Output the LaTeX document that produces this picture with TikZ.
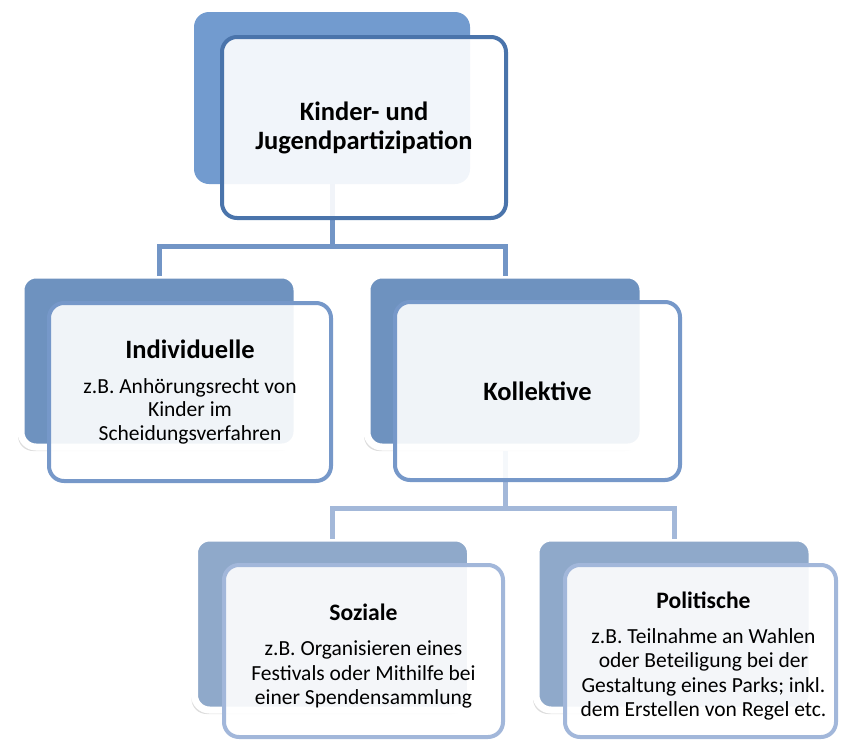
\documentclass[tikz,border=0pt]{standalone}
\usepackage{fontspec}
\setmainfont{Carlito}
\usetikzlibrary{shadows}
\definecolor{backA}{HTML}{729BCF}
\definecolor{lineA}{HTML}{4A74AB}
\definecolor{backB}{HTML}{6E92BF}
\definecolor{lineB}{HTML}{7698C9}
\definecolor{backC}{HTML}{8FA9CA}
\definecolor{lineC}{HTML}{A2B7DA}
\definecolor{connA}{HTML}{7295C6}
\definecolor{connB}{HTML}{A3B8D9}
\newcommand{\ttlfont}{\fontsize{26.5}{29}\selectfont\bfseries}
\newcommand{\ttlsmall}{\fontsize{23.6}{27}\selectfont\bfseries}
\newcommand{\subtxt}{\fontsize{21.5}{23.5}\selectfont}
\newcommand{\subtxtC}{\fontsize{21.5}{24.2}\selectfont}
\tikzset{
  backbox/.style={rectangle, rounded corners=15pt, minimum width=276pt, minimum height=172pt, inner sep=0pt},
  backglow/.style={backbox, draw=white, line width=7pt, drop shadow={shadow xshift=-3pt, shadow yshift=-4pt, opacity=0.22, fill=black!60}},
  frontbox/.style={rectangle, rounded corners=15pt, line width=4pt, fill=white, fill opacity=0.9, text opacity=1, align=center, inner sep=0pt},
  boxtext/.style={align=center, inner sep=0pt},
  conn/.style={line width=5pt},
}
\begin{document}
\begin{tikzpicture}[x=1pt,y=-1pt]
\useasboundingbox (0,0) rectangle (841,742);
% back boxes
\node[backbox, fill=backA] (topback) at (332,98) {};
\node[backglow, fill=backB] (indback) at (159,361) {};
\node[backglow, fill=backB] (kolback) at (505,361) {};
\node[backglow, fill=backC] (sozback) at (332.5,624) {};
\node[backglow, fill=backC] (polback) at (674,624) {};
% connectors
\coordinate (j1) at (332,246);
\coordinate (j2) at (505,508);
\draw[conn, draw=connA] (topback.south) -- (j1) -| ([yshift=-4pt]indback.north);
\draw[conn, draw=connA] (j1) -| ([yshift=-4pt]kolback.north);
\draw[conn, draw=connB] (kolback.south) -- (j2) -| ([yshift=-4pt]sozback.north);
\draw[conn, draw=connB] (j2) -| ([yshift=-4pt]polback.north);
% front boxes
\node[frontbox, draw=lineA, minimum width=284pt, minimum height=181pt, font=\ttlfont] (top) at (364,127.5)
  {Kinder- und\\Jugendpartizipation};
\node[frontbox, draw=lineB, minimum width=282pt, minimum height=178pt, font=\subtxt] (ind) at (190,392)
  {{\ttlfont Individuelle}\\[11pt]
   z.B. Anhörungsrecht von\\Kinder im\\Scheidungsverfahren};
\node[frontbox, draw=lineB, minimum width=285pt, minimum height=178pt, font=\ttlfont] (kol) at (537.5,391)
  {Kollektive};
\node[frontbox, draw=lineC, minimum width=279pt, minimum height=172pt] (soz) at (363.5,651) {};
\node[boxtext, font=\subtxtC] (soztxt) at ([yshift=-5pt]soz.center)
  {{\ttlsmall Soziale}\\[11pt]
   z.B. Organisieren eines\\Festivals oder Mithilfe bei\\einer Spendensammlung};
\node[frontbox, draw=lineC, minimum width=271pt, minimum height=172pt] (pol) at (700.5,651) {};
\node[boxtext, font=\subtxtC] (poltxt) at ([xshift=3pt,yshift=-5pt]pol.center)
  {{\ttlsmall Politische}\\[11pt]
   z.B. Teilnahme an Wahlen\\oder Beteiligung bei der\\Gestaltung eines Parks; inkl.\\dem Erstellen von Regel etc.};
\end{tikzpicture}
\end{document}
